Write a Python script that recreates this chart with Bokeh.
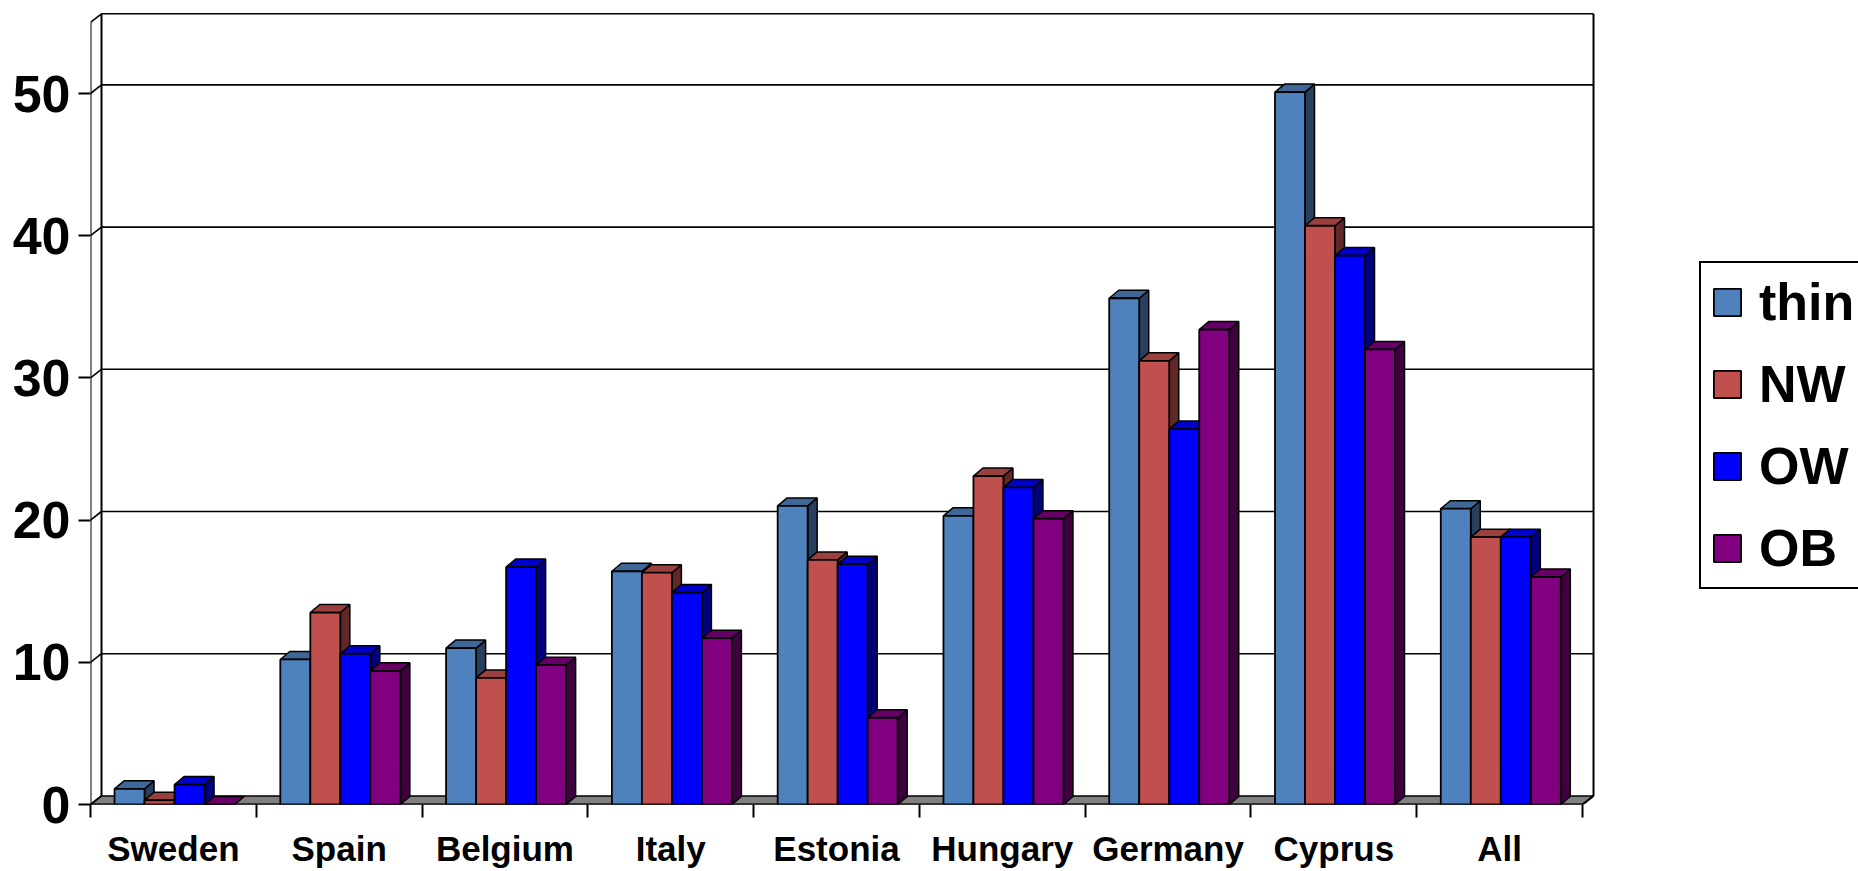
from bokeh.plotting import figure
from bokeh.models import Range1d, FixedTicker, Legend, LegendItem
from bokeh.embed import file_html
from bokeh.resources import INLINE

# ---- data ----
categories = ["Sweden", "Spain", "Belgium", "Italy", "Estonia", "Hungary", "Germany", "Cyprus", "All"]
series_names = ["thin", "NW", "OW", "OB"]
thin = [1.1, 10.2, 11.0, 16.4, 21.0, 20.3, 35.6, 50.1, 20.8]
nw = [0.3, 13.5, 8.9, 16.3, 17.2, 23.1, 31.2, 40.7, 18.8]
ow = [1.4, 10.6, 16.7, 14.9, 16.9, 22.3, 26.4, 38.6, 18.8]
ob = [0.0, 9.4, 9.8, 11.7, 6.1, 20.1, 33.4, 32.0, 16.0]
y_ticks = [0, 10, 20, 30, 40, 50]
y_max = 55

# ---- styles ----
front_colors = ["#4F81BD", "#C0504D", "#0000FF", "#800080"]
top_colors = ["#3F6797", "#9A403E", "#0000CC", "#660066"]
side_colors = ["#283F5E", "#602826", "#000080", "#400040"]
FONT = "Liberation Sans"

W, H = 1858, 871
LEFT = 90
PX_X = 165.78   # px per category
PX_Y = 14.22    # px per value unit
FRAME_H = 804
x_end = (W - LEFT) / PX_X
y_end = FRAME_H / PX_Y

# 3D offsets (screen px -> data units)
wdx, wdy = 11 / PX_X, 8.6 / PX_Y
bdx, bdy = 9.5 / PX_X, 8 / PX_Y
bar_w = 0.181
bar_start = 0.145

p = figure(width=W, height=H, output_backend="svg", toolbar_location=None,
           x_range=Range1d(0, x_end), y_range=Range1d(0, y_end),
           min_border_left=LEFT, min_border_top=0, min_border_right=0,
           min_border_bottom=H - FRAME_H)
p.xgrid.visible = False
p.ygrid.visible = False
p.outline_line_color = None
p.background_fill_color = "white"

n = len(categories)

# floor
p.patch([0, n, n + wdx, wdx], [0, 0, wdy, wdy], fill_color="#808080",
        line_color="black", line_width=1.5)

# back wall gridlines + left wall diagonals
gl = [t for t in y_ticks if t > 0] + [y_max]
p.segment(x0=[wdx] * len(gl), y0=[t + wdy for t in gl], x1=[n + wdx] * len(gl),
          y1=[t + wdy for t in gl], line_color="black", line_width=1.6)
p.segment(x0=[0] * (len(gl) + 1), y0=[0] + gl, x1=[wdx] * (len(gl) + 1),
          y1=[wdy] + [t + wdy for t in gl], line_color="black", line_width=1.6)
# wall verticals
p.segment(x0=[wdx, n + wdx, 0], y0=[wdy, wdy, 0], x1=[wdx, n + wdx, 0],
          y1=[y_max + wdy, y_max + wdy, y_max], line_color="black", line_width=2)
# front baseline and right floor edge
p.segment(x0=[0, n], y0=[0, 0], x1=[n, n + wdx], y1=[0, wdy],
          line_color="black", line_width=2)

# bars
all_vals = [thin, nw, ow, ob]
legend_items = []
for k, vals in enumerate(all_vals):
    xl = [i + bar_start + k * bar_w for i in range(n)]
    xr = [x + bar_w for x in xl]
    side_xs = [[r, r + bdx, r + bdx, r] for r in xr]
    side_ys = [[0, bdy, v + bdy, v] for v in vals]
    p.patches(side_xs, side_ys, fill_color=side_colors[k], line_color="black", line_width=1.5)
    top_xs = [[l, l + bdx, r + bdx, r] for l, r in zip(xl, xr)]
    top_ys = [[v, v + bdy, v + bdy, v] for v in vals]
    p.patches(top_xs, top_ys, fill_color=top_colors[k], line_color="black", line_width=1.5)
    fr = p.quad(left=xl, right=xr, bottom=[0] * n, top=vals,
                fill_color=front_colors[k], line_color="black", line_width=1.8)
    legend_items.append(LegendItem(label=series_names[k], renderers=[fr]))

# axes
xa = p.xaxis[0]
xa.ticker = FixedTicker(ticks=[i + 0.5 for i in range(n)], minor_ticks=list(range(n + 1)))
xa.major_label_overrides = {i + 0.5: c for i, c in enumerate(categories)}
xa.axis_line_color = None
xa.major_tick_out = 0
xa.major_tick_in = 0
xa.major_tick_line_color = None
xa.minor_tick_out = 13
xa.minor_tick_in = 0
xa.minor_tick_line_color = "black"
xa.minor_tick_line_width = 2
xa.major_label_standoff = 11
xa.major_label_text_font = FONT
xa.major_label_text_font_style = "bold"
xa.major_label_text_font_size = "35px"
xa.major_label_text_color = "black"

ya = p.yaxis[0]
ya.ticker = FixedTicker(ticks=y_ticks, minor_ticks=[])
ya.axis_line_color = None
ya.major_tick_out = 12
ya.major_tick_in = 0
ya.major_tick_line_color = "black"
ya.major_tick_line_width = 2
ya.major_label_standoff = 8
ya.major_label_text_font = FONT
ya.major_label_text_font_style = "bold"
ya.major_label_text_font_size = "52px"
ya.major_label_text_color = "black"

legend = Legend(items=legend_items, location=(1609, 215),
                glyph_width=34, glyph_height=34, label_standoff=15,
                label_text_font=FONT, label_text_font_style="bold",
                label_text_font_size="52px", label_text_color="black",
                padding=9, spacing=22, margin=0,
                border_line_color="black", border_line_width=2, border_line_alpha=1,
                background_fill_color="white", background_fill_alpha=1)
p.add_layout(legend, "center")

open("out.html", "w").write(file_html(p, INLINE))
